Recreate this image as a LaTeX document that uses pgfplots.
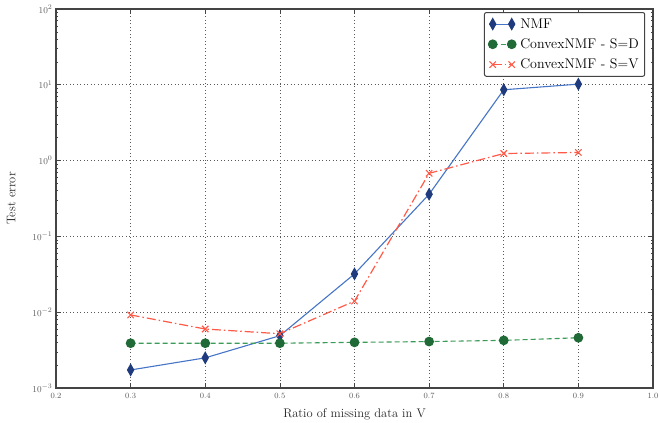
\documentclass[border=0pt]{standalone}
\usepackage{pgfplots}
\pgfplotsset{compat=1.18}
\definecolor{nmfline}{HTML}{4674C6}
\definecolor{nmfmark}{HTML}{1F3B7E}
\definecolor{sdline}{HTML}{3A9A58}
\definecolor{sdmark}{HTML}{1F6A36}
\definecolor{svline}{HTML}{FF5A48}
\definecolor{ticktext}{HTML}{5A5A5A}
\definecolor{framecol}{HTML}{444444}
\begin{document}
\begin{tikzpicture}
\begin{axis}[
  scale only axis,
  width=597pt, height=379pt,
  xmin=0.2, xmax=1.0,
  ymode=log, ymin=1e-3, ymax=1e2,
  xtick={0.2,0.3,...,1.0},
  xticklabel style={/pgf/number format/fixed, /pgf/number format/fixed zerofill,
    /pgf/number format/precision=1, yshift=-2pt, font=\fontsize{8.5}{10}\selectfont},
  ytick={1e-3,1e-2,1e-1,1e0,1e1,1e2},
  yticklabel style={font=\fontsize{9.5}{11}\selectfont},
  tick label style={text=ticktext},
  tick align=inside,
  major tick length=5pt, minor tick length=2.5pt,
  tick style={framecol, line width=0.6pt},
  xtick pos=both, ytick pos=both,
  grid=major,
  major grid style={black!65, line width=0.7pt, dash pattern=on 0.7pt off 2.8pt},
  axis line style={framecol, line width=1.2pt},
  xlabel={Ratio of missing data in V},
  ylabel={Test error},
  label style={font=\fontsize{12.5}{14}\selectfont, text=black!85},
  xlabel style={at={(axis description cs:0.5,-0.07)}, anchor=center},
  ylabel style={at={(axis description cs:-0.075,0.5)}, anchor=center},
  legend style={font=\fontsize{14}{16}\selectfont, draw=framecol, rounded corners=2pt,
    line width=1pt, row sep=5pt, inner xsep=4pt, inner ysep=4pt,
    at={(0.987,0.992)}, anchor=north east},
  legend cell align=left,
  legend image code/.code={\draw[#1] plot coordinates {(0pt,0pt) (19pt,0pt)};
    \path (-1pt,0pt) (25pt,0pt);},
]
\addplot[color=nmfline, line width=1.1pt, mark=diamond*, mark size=5.5pt,
  mark options={solid, xscale=0.75, fill=nmfmark, draw=nmfmark}]
  coordinates {(0.3,1.73e-3) (0.4,2.5e-3) (0.5,4.9e-3) (0.6,3.2e-2) (0.7,0.36) (0.8,8.6) (0.9,10.2)};
\addlegendentry{NMF}
\addplot[color=sdline, line width=1.1pt, dash pattern=on 5pt off 3pt, mark=*, mark size=4.3pt,
  mark options={solid, fill=sdmark, draw=sdmark}]
  coordinates {(0.3,3.9e-3) (0.4,3.9e-3) (0.5,3.9e-3) (0.6,4.0e-3) (0.7,4.1e-3) (0.8,4.25e-3) (0.9,4.6e-3)};
\addlegendentry{ConvexNMF - S=D}
\addplot[color=svline, line width=1.2pt, dash pattern=on 9pt off 3pt on 1.5pt off 3pt, mark=x, mark size=4.5pt,
  mark options={solid, draw=svline, line width=1.1pt}]
  coordinates {(0.3,9.2e-3) (0.4,6.0e-3) (0.5,5.2e-3) (0.6,1.4e-2) (0.7,0.68) (0.8,1.24) (0.9,1.28)};
\addlegendentry{ConvexNMF - S=V}
\end{axis}
\pgfresetboundingbox
\path ([xshift=-56pt,yshift=-35pt]current axis.south west) rectangle ([xshift=6pt,yshift=9pt]current axis.north east);
\end{tikzpicture}
\end{document}
